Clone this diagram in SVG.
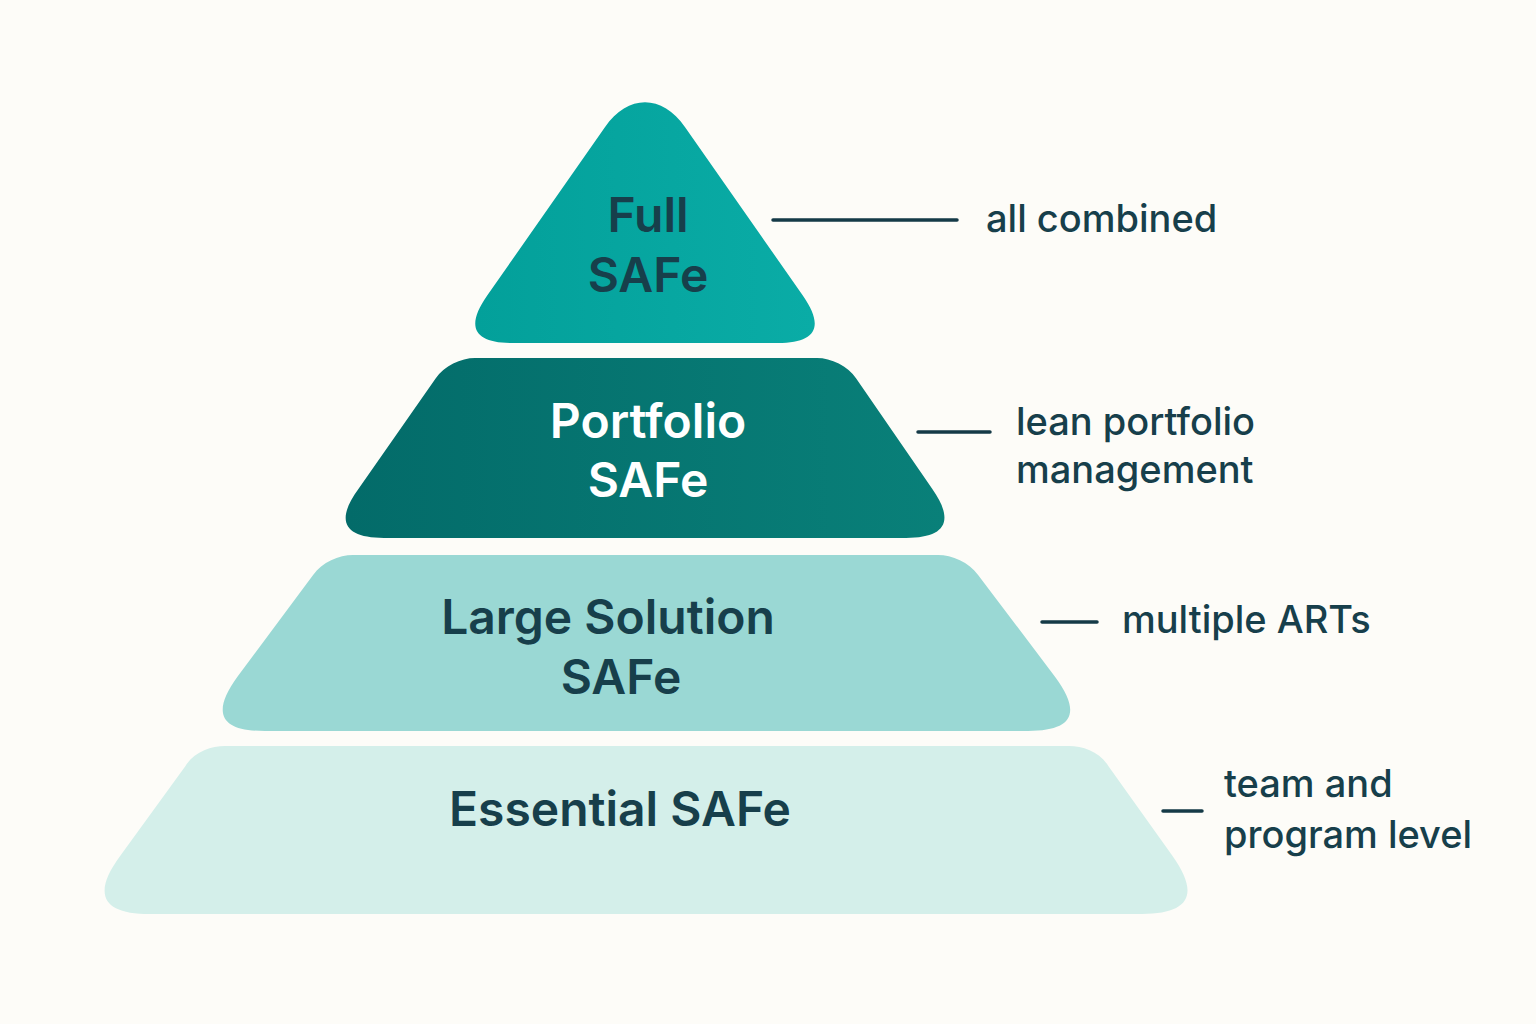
<svg xmlns="http://www.w3.org/2000/svg" width="1536" height="1024" viewBox="0 0 1536 1024">
  <style>
    .node-dark { font-family: Inter, "Noto Sans", "Liberation Sans", sans-serif; font-weight: 600; font-size: 48px; fill: #173F4B; text-anchor: middle; }
    .node-light { font-family: Inter, "Noto Sans", "Liberation Sans", sans-serif; font-weight: 600; font-size: 48px; fill: #FFFFFF; text-anchor: middle; }
    .label { font-family: Inter, "Noto Sans", "Liberation Sans", sans-serif; font-weight: 500; font-size: 38px; fill: #173F4B; }
    .conn { stroke: #153A47; stroke-width: 3.5; stroke-linecap: round; fill: none; }
  </style>
  <defs>
    <linearGradient id="gFull" x1="0" y1="0" x2="1" y2="0">
      <stop offset="0" stop-color="#03A09A"/>
      <stop offset="1" stop-color="#0AACA6"/>
    </linearGradient>
    <linearGradient id="gPort" x1="0" y1="0" x2="1" y2="0">
      <stop offset="0" stop-color="#036B69"/>
      <stop offset="1" stop-color="#098079"/>
    </linearGradient>
  </defs>
  <rect width="1536" height="1024" fill="#FDFCF8"/>

  <g id="essential">
    <path d="M225 746 L1069 746 C1083 746 1100 752 1108.5 766.3 L1172.2 855.4 C1200 894 1190 914 1142 914 L150 914 C102 914 92 894 120.3 855.8 L185.3 766.2 C194 752 211 746 225 746 Z" fill="#D4EFEA"/>
    <text class="node-dark" x="620" y="826">Essential SAFe</text>
  </g>

  <g id="large-solution">
    <path d="M353 555 L938 555 C952 555 969 562 978.1 575 L1055 676.7 C1082 713 1073 731 1028 731 L265 731 C220 731 211 713 237.6 676.5 L313.1 575 C322 562 339 555 353 555 Z" fill="#9AD8D4"/>
    <text class="node-dark" x="608" y="634">Large Solution</text>
    <text class="node-dark" x="621" y="694">SAFe</text>
  </g>

  <g id="portfolio">
    <path d="M475 358 L817 358 C831 358 848 366 856.2 378.6 L932 488.6 C955 521 946 538 906 538 L384 538 C344 538 335 521 358.4 488.9 L435.6 378.5 C444 366 461 358 475 358 Z" fill="url(#gPort)"/>
    <text class="node-light" x="648" y="438">Portfolio</text>
    <text class="node-light" x="648" y="497">SAFe</text>
  </g>

  <g id="full">
    <path d="M604.9 127.3 C628 94 662 94 685.1 127.3 L802.8 295.5 C825 327 816 343 778 343 L512 343 C474 343 465 327 487.2 295.5 Z" fill="url(#gFull)"/>
    <text class="node-dark" x="648" y="232">Full</text>
    <text class="node-dark" x="648" y="292">SAFe</text>
  </g>

  <g id="connectors">
    <line class="conn" x1="773" y1="220" x2="957" y2="220"/>
    <line class="conn" x1="918" y1="432" x2="990" y2="432"/>
    <line class="conn" x1="1042" y1="622" x2="1097" y2="622"/>
    <line class="conn" x1="1163" y1="811" x2="1202" y2="811"/>
  </g>

  <g id="labels">
    <text class="label" x="986" y="232">all combined</text>
    <text class="label" x="1016" y="435">lean portfolio</text>
    <text class="label" x="1016" y="483">management</text>
    <text class="label" x="1122" y="633">multiple ARTs</text>
    <text class="label" x="1224" y="797">team and</text>
    <text class="label" x="1224" y="848">program level</text>
  </g>
</svg>
